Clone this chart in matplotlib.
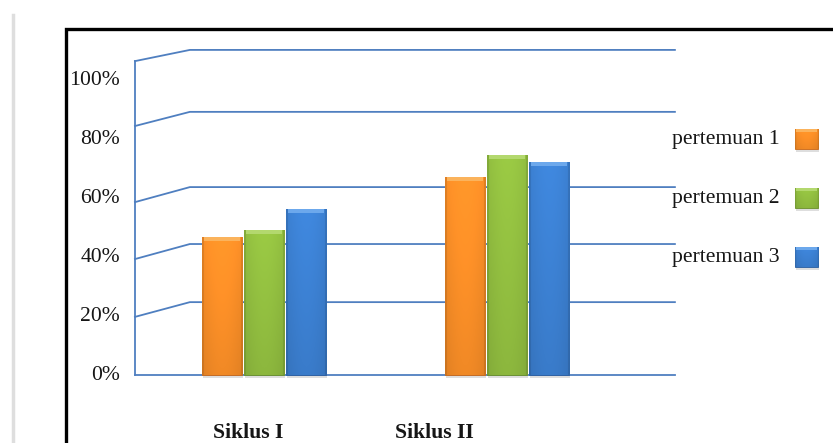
import numpy as np
import matplotlib
matplotlib.use("Agg")
import matplotlib.pyplot as plt
import matplotlib.colors as mcolors
from matplotlib.patches import Rectangle

plt.rcParams['font.family'] = ['Liberation Serif', 'DejaVu Serif']

categories = ['Siklus I', 'Siklus II']
series = ['pertemuan 1', 'pertemuan 2', 'pertemuan 3']
pertemuan1 = [46.7, 67.2]
pertemuan2 = [49.2, 74.6]
pertemuan3 = [56.3, 72.2]
ticks = [0, 20, 40, 60, 80, 100]
tick_labels = ['0%', '20%', '40%', '60%', '80%', '100%']

# wall gridlines: height at the front edge and at the back wall
grid_front = [19.7, 39.3, 58.6, 84.4, 106.4]
grid_back = [24.7, 44.4, 63.7, 89.2, 110.2]

colors = ['#F28A26', '#8DB83E', '#3A7CCB']
tops = ['#FBB35C', '#B3D86E', '#6CA8EC']
edges = ['#C8681A', '#6A8F2B', '#2B5E9F']
grid_color = '#4F7FC0'
text_color = '#161616'


def shade(ax, rect, base, top, edge):
    """Give a bar a soft bevelled look: gradient body, light top, shadow."""
    x0, y0 = rect.get_x(), rect.get_y()
    w, h = rect.get_width(), rect.get_height()
    rgb = np.array(mcolors.to_rgb(base))
    cols = np.linspace(0, 1, 40)
    rows = np.linspace(0, 1, 120)[:, None]
    across = 1.0 + 0.07 * np.sin(np.pi * cols) - 0.10 * (np.abs(cols - 0.5) > 0.45)
    down = 0.93 + 0.10 * rows
    img = np.clip(rgb[None, None, :] * across[None, :, None] * down[:, :, None], 0, 1)
    im = ax.imshow(img, extent=(x0, x0 + w, y0, y0 + h), origin='lower',
                   aspect='auto', zorder=3.5, interpolation='bilinear')
    im.set_clip_path(rect)
    cap = min(1.3, h * 0.15)
    ax.add_patch(Rectangle((x0 + w * 0.05, y0 + h - cap), w * 0.90, cap,
                           facecolor=top, edgecolor='none', zorder=3.8))
    ax.add_patch(Rectangle((x0 + w * 0.03, y0 - 1.0), w, h,
                           facecolor='#7f7f7f', alpha=0.25, edgecolor='none',
                           zorder=2.5))
    rect.set_edgecolor(edge)
    rect.set_linewidth(0.6)


fig = plt.figure(figsize=(8.33, 4.43), dpi=100)
ax = fig.add_axes([0, 0, 1, 1])

x = np.arange(len(categories))
pitch = 0.173
width = 0.165
for i, vals in enumerate([pertemuan1, pertemuan2, pertemuan3]):
    bars = ax.bar(x + (i - 1) * pitch, vals, width=width, color=colors[i],
                  zorder=3)
    for b in bars:
        shade(ax, b, colors[i], tops[i], edges[i])

# perspective walls and gridlines
x_front, x_corner, x_end = -0.531, -0.305, 1.691
for f, bk in zip(grid_front, grid_back):
    ax.plot([x_front, x_corner, x_end], [f, bk, bk], color=grid_color,
            lw=1.3, zorder=1)
ax.plot([x_front, x_end], [0, 0], color=grid_color, lw=1.3, zorder=1)
ax.plot([x_front, x_front], [0, grid_front[-1]], color=grid_color, lw=1.3,
        zorder=1)

# value axis labels
for t, lab in zip(ticks, tick_labels):
    ax.text(-0.592, t, lab, ha='right', va='center', fontsize=15.6,
            color=text_color)

# category labels sit on the front edge of the floor
label_x = [-0.066, 0.700]
for lx, cat in zip(label_x, categories):
    ax.text(lx, -19.7, cat, ha='center', va='center', fontsize=15.6,
            fontweight='bold', color=text_color)

# legend on the right: text, then swatch
legend_y = [80, 60, 40]
for name, ly, c, tc, ec in zip(series, legend_y, colors, tops, edges):
    ax.text(2.123, ly, name, ha='right', va='center', fontsize=15.6,
            color=text_color)
    sw = Rectangle((2.185, ly - 3.55), 0.095, 7.1, facecolor=c, zorder=3)
    ax.add_patch(sw)
    shade(ax, sw, c, tc, ec)

ax.set_xlim(-1.0864, 2.3416)
ax.set_ylim(-23.05, 127.12)
ax.axis('off')

# page edge and chart frame
ax.plot([0.0156, 0.0156], [0, 0.966], transform=ax.transAxes,
        color='#dedede', lw=2.5, clip_on=False)
ax.plot([0.0792, 0.0792, 1.0], [0, 0.9345, 0.9345], transform=ax.transAxes,
        color='black', lw=2.4, clip_on=False, solid_joinstyle='miter')

fig.savefig('out.png', dpi=100)
